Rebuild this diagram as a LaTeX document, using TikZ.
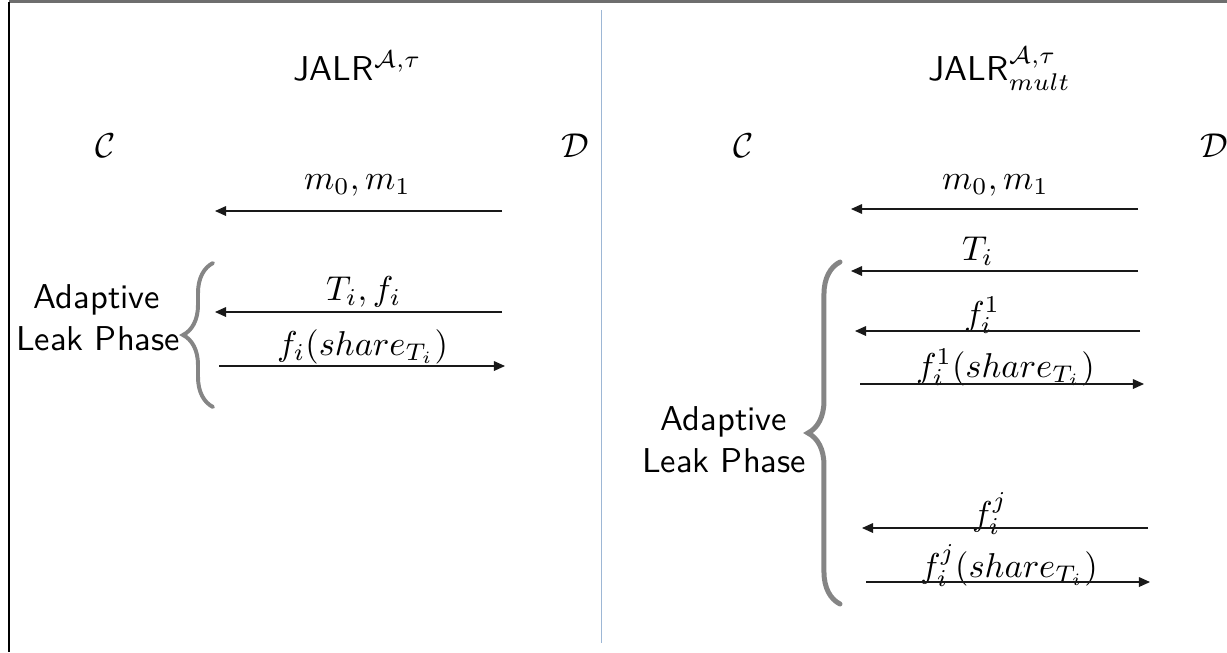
\documentclass[tikz,border=0pt]{standalone}
\usetikzlibrary{arrows.meta,decorations.pathreplacing}
\definecolor{framegray}{HTML}{6E6E6E}
\definecolor{splitblue}{HTML}{9DB7D5}
\definecolor{bracegray}{HTML}{858585}
\begin{document}
\begin{tikzpicture}[x=0.29pt,y=-0.29pt,
  msg/.style={draw=black!90, line width=0.35pt, -{Triangle[length=3.2pt,width=2.8pt]}},
  lbl/.style={anchor=base west, inner sep=0pt, outer sep=0pt},
  phase/.style={anchor=base, inner sep=0pt, font=\sffamily},
  headline/.style={anchor=base west, inner sep=0pt, font=\sffamily},
  leakbrace/.style={draw=bracegray, line cap=round, decorate,
    decoration={brace, amplitude=#1}}]
\useasboundingbox (0,0) rectangle (1227,652);

% frame and panel divider
\draw[framegray, line width=0.6pt] (9,1.5) -- (1227,1.5);
\draw[black, line width=0.35pt] (9,1.5) -- (9,652);
\draw[splitblue, line width=0.5pt] (601.5,10) -- (601.5,643);

% ---------- left panel: single leakage function ----------
\node[headline] (titleL) at (293,80) {JALR$^{\mathcal{A},\tau}$};
\node[lbl] (CL) at (95,157) {$\mathcal{C}$};
\node[lbl] (DL) at (561,157) {$\mathcal{D}$};

\node[lbl] (mL) at (304,189) {$m_0,m_1$};
\coordinate (mLs) at (502,211); \coordinate (mLe) at (215,211);
\draw[msg] (mLs) -- (mLe);

\node[lbl] (tfL) at (326,300) {$T_i,f_i$};
\coordinate (tfLs) at (502,312); \coordinate (tfLe) at (215,312);
\draw[msg] (tfLs) -- (tfLe);

\node[lbl] (shL) at (277,355) {$f_i(share_{T_i})$};
\coordinate (shLs) at (219,366); \coordinate (shLe) at (505,366);
\draw[msg] (shLs) -- (shLe);

\node[phase] (adL) at (97,308) {Adaptive};
\node[phase] (lkL) at (98,350) {Leak Phase};
\coordinate (brLb) at (213,407); \coordinate (brLt) at (213,263);
\draw[leakbrace=8.7pt, line width=1.15pt] (brLb) -- (brLt);

% ---------- right panel: multiple leakage functions ----------
\node[headline] (titleR) at (928,80) {JALR$^{\mathcal{A},\tau}_{mult}$};
\node[lbl] (CR) at (733,157) {$\mathcal{C}$};
\node[lbl] (DR) at (1200,157) {$\mathcal{D}$};

\node[lbl] (mR) at (942,189) {$m_0,m_1$};
\coordinate (mRs) at (1138,209); \coordinate (mRe) at (851,209);
\draw[msg] (mRs) -- (mRe);

\node[lbl] (tR) at (962,260) {$T_i$};
\coordinate (tRs) at (1138,271); \coordinate (tRe) at (851,271);
\draw[msg] (tRs) -- (tRe);

\node[lbl] (f1R) at (964,325) {$f_i^1$};
\coordinate (f1Rs) at (1140,331); \coordinate (f1Re) at (855,331);
\draw[msg] (f1Rs) -- (f1Re);

\node[lbl] (s1R) at (916,377) {$f_i^1(share_{T_i})$};
\coordinate (s1Rs) at (860,384); \coordinate (s1Re) at (1144,384);
\draw[msg] (s1Rs) -- (s1Re);

\node[lbl] (fjR) at (972,525) {$f_i^j$};
\coordinate (fjRs) at (1148,528); \coordinate (fjRe) at (862,528);
\draw[msg] (fjRs) -- (fjRe);

\node[lbl] (sjR) at (920,577) {$f_i^j(share_{T_i})$};
\coordinate (sjRs) at (866,582); \coordinate (sjRe) at (1150,582);
\draw[msg] (sjRs) -- (sjRe);

\node[phase] (adR) at (724,430) {Adaptive};
\node[phase] (lkR) at (724,472) {Leak Phase};
\coordinate (brRb) at (840,604); \coordinate (brRt) at (840,262);
\draw[leakbrace=9.3pt, line width=1.45pt] (brRb) -- (brRt);
\end{tikzpicture}
\end{document}
